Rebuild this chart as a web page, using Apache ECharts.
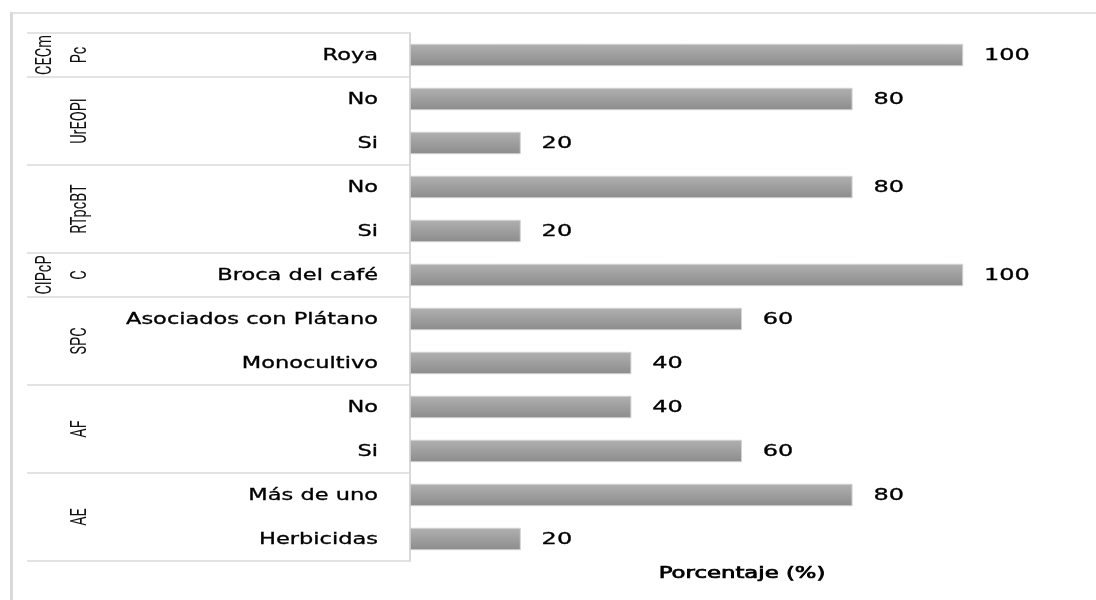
<!DOCTYPE html>
<html>
<head>
<meta charset="utf-8">
<script src="https://cdn.jsdelivr.net/npm/echarts@6/dist/echarts.min.js"></script>
<style>
  html, body { margin: 0; padding: 0; background: #fff; }
  #chart { width: 1096px; height: 600px; }
</style>
</head>
<body>
<div id="chart"></div>
<script>
// Rows, top to bottom
const categories = ['Roya', 'No', 'Si', 'No', 'Si', 'Broca del café',
  'Asociados con Plátano', 'Monocultivo', 'No', 'Si', 'Más de uno', 'Herbicidas'];
const percentages = [100, 80, 20, 80, 20, 100, 60, 40, 40, 60, 80, 20];

// Row groups (label lines, number of rows), top to bottom
const groupNames = [['CECm', 'Pc'], ['UrEOPI'], ['RTpcBT'], ['CIPcP', 'C'], ['SPC'], ['AF'], ['AE']];
const groupSizes = [1, 2, 2, 1, 2, 2, 2];

const axisTitle = 'Porcentaje (%)';

// Wide lettering used for row names, values and the axis title
const WIDE = 1.5;

const chart = echarts.init(document.getElementById('chart'));

chart.setOption({
  animation: false,
  backgroundColor: '#ffffff',
  grid: { left: 410, right: 133, top: 33, bottom: 39 },
  xAxis: { type: 'value', min: 0, max: 100, show: false },
  yAxis: {
    type: 'category',
    inverse: true,
    data: categories,
    axisLine: { show: true, lineStyle: { color: '#d9d9d9', width: 2 } },
    axisTick: { show: false },
    splitLine: { show: false },
    axisLabel: { show: false }
  },
  series: [{
    type: 'bar',
    data: percentages,
    barWidth: '50%',
    itemStyle: {
      color: new echarts.graphic.LinearGradient(0, 0, 0, 1, [
        { offset: 0, color: '#b0b0b0' },
        { offset: 1, color: '#8c8c8c' }
      ]),
      borderColor: '#d4d4d4',
      borderWidth: 0.6
    }
  }]
});

const yAt = i => chart.convertToPixel({ yAxisIndex: 0 }, i);
const xAt = v => chart.convertToPixel({ xAxisIndex: 0 }, v);
const step = yAt(1) - yAt(0);
const axisX = xAt(0) - 1;
const graphics = [];

// Row names, right-aligned against the axis
categories.forEach((name, i) => {
  graphics.push({
    type: 'text', x: axisX - 31, y: yAt(i) + 1, scaleX: WIDE, silent: true,
    style: {
      text: name, fontSize: 15, fontFamily: 'DejaVu Sans', fill: '#000',
      stroke: '#000', lineWidth: 0.3,
      align: 'right', verticalAlign: 'middle', textAlign: 'right', textVerticalAlign: 'middle'
    }
  });
});

// Value labels at the bar ends
percentages.forEach((v, i) => {
  graphics.push({
    type: 'text', x: xAt(v) + 21, y: yAt(i) + 1, scaleX: 1.55, silent: true,
    style: {
      text: String(v), fontSize: 15.5, fontFamily: 'DejaVu Sans', fill: '#000',
      stroke: '#000', lineWidth: 0.3,
      align: 'left', verticalAlign: 'middle', textAlign: 'left', textVerticalAlign: 'middle'
    }
  });
});

// Group separators and rotated group names
const lineStyle = { stroke: '#dadada', lineWidth: 1.5 };
let start = 0;
const bounds = [yAt(0) - step / 2];
groupSizes.forEach(n => { start += n; bounds.push(yAt(start - 1) + step / 2); });

bounds.forEach(y => {
  graphics.push({ type: 'line', shape: { x1: 27, y1: y, x2: axisX, y2: y }, style: lineStyle, silent: true });
});

groupNames.forEach((lines, g) => {
  const cy = (bounds[g] + bounds[g + 1]) / 2;
  lines.forEach((t, j) => {
    graphics.push({
      type: 'text', x: 81 - (lines.length - 1 - j) * 35, y: cy,
      rotation: Math.PI / 2, scaleY: WIDE, silent: true,
      style: {
        text: t, fontSize: 14.5, fontFamily: 'Roboto',
        fill: '#111', align: 'center', verticalAlign: 'middle',
        textAlign: 'center', textVerticalAlign: 'middle'
      }
    });
  });
});

// Frame of the chart area
graphics.push({ type: 'line', shape: { x1: 11, y1: 13, x2: 1096, y2: 13 }, style: { stroke: '#d9d9d9', lineWidth: 1.5 }, silent: true });
graphics.push({ type: 'line', shape: { x1: 11.5, y1: 12, x2: 11.5, y2: 600 }, style: { stroke: '#d9d9d9', lineWidth: 3 }, silent: true });

// Axis title
graphics.push({
  type: 'text', x: 742, y: 574, scaleX: 1.47, silent: true,
  style: {
    text: axisTitle, fontSize: 15.5, fontFamily: 'DejaVu Sans',
    fill: '#000', stroke: '#000', lineWidth: 0.7,
    align: 'center', verticalAlign: 'middle',
    textAlign: 'center', textVerticalAlign: 'middle'
  }
});

chart.setOption({ graphic: graphics });
</script>
</body>
</html>
